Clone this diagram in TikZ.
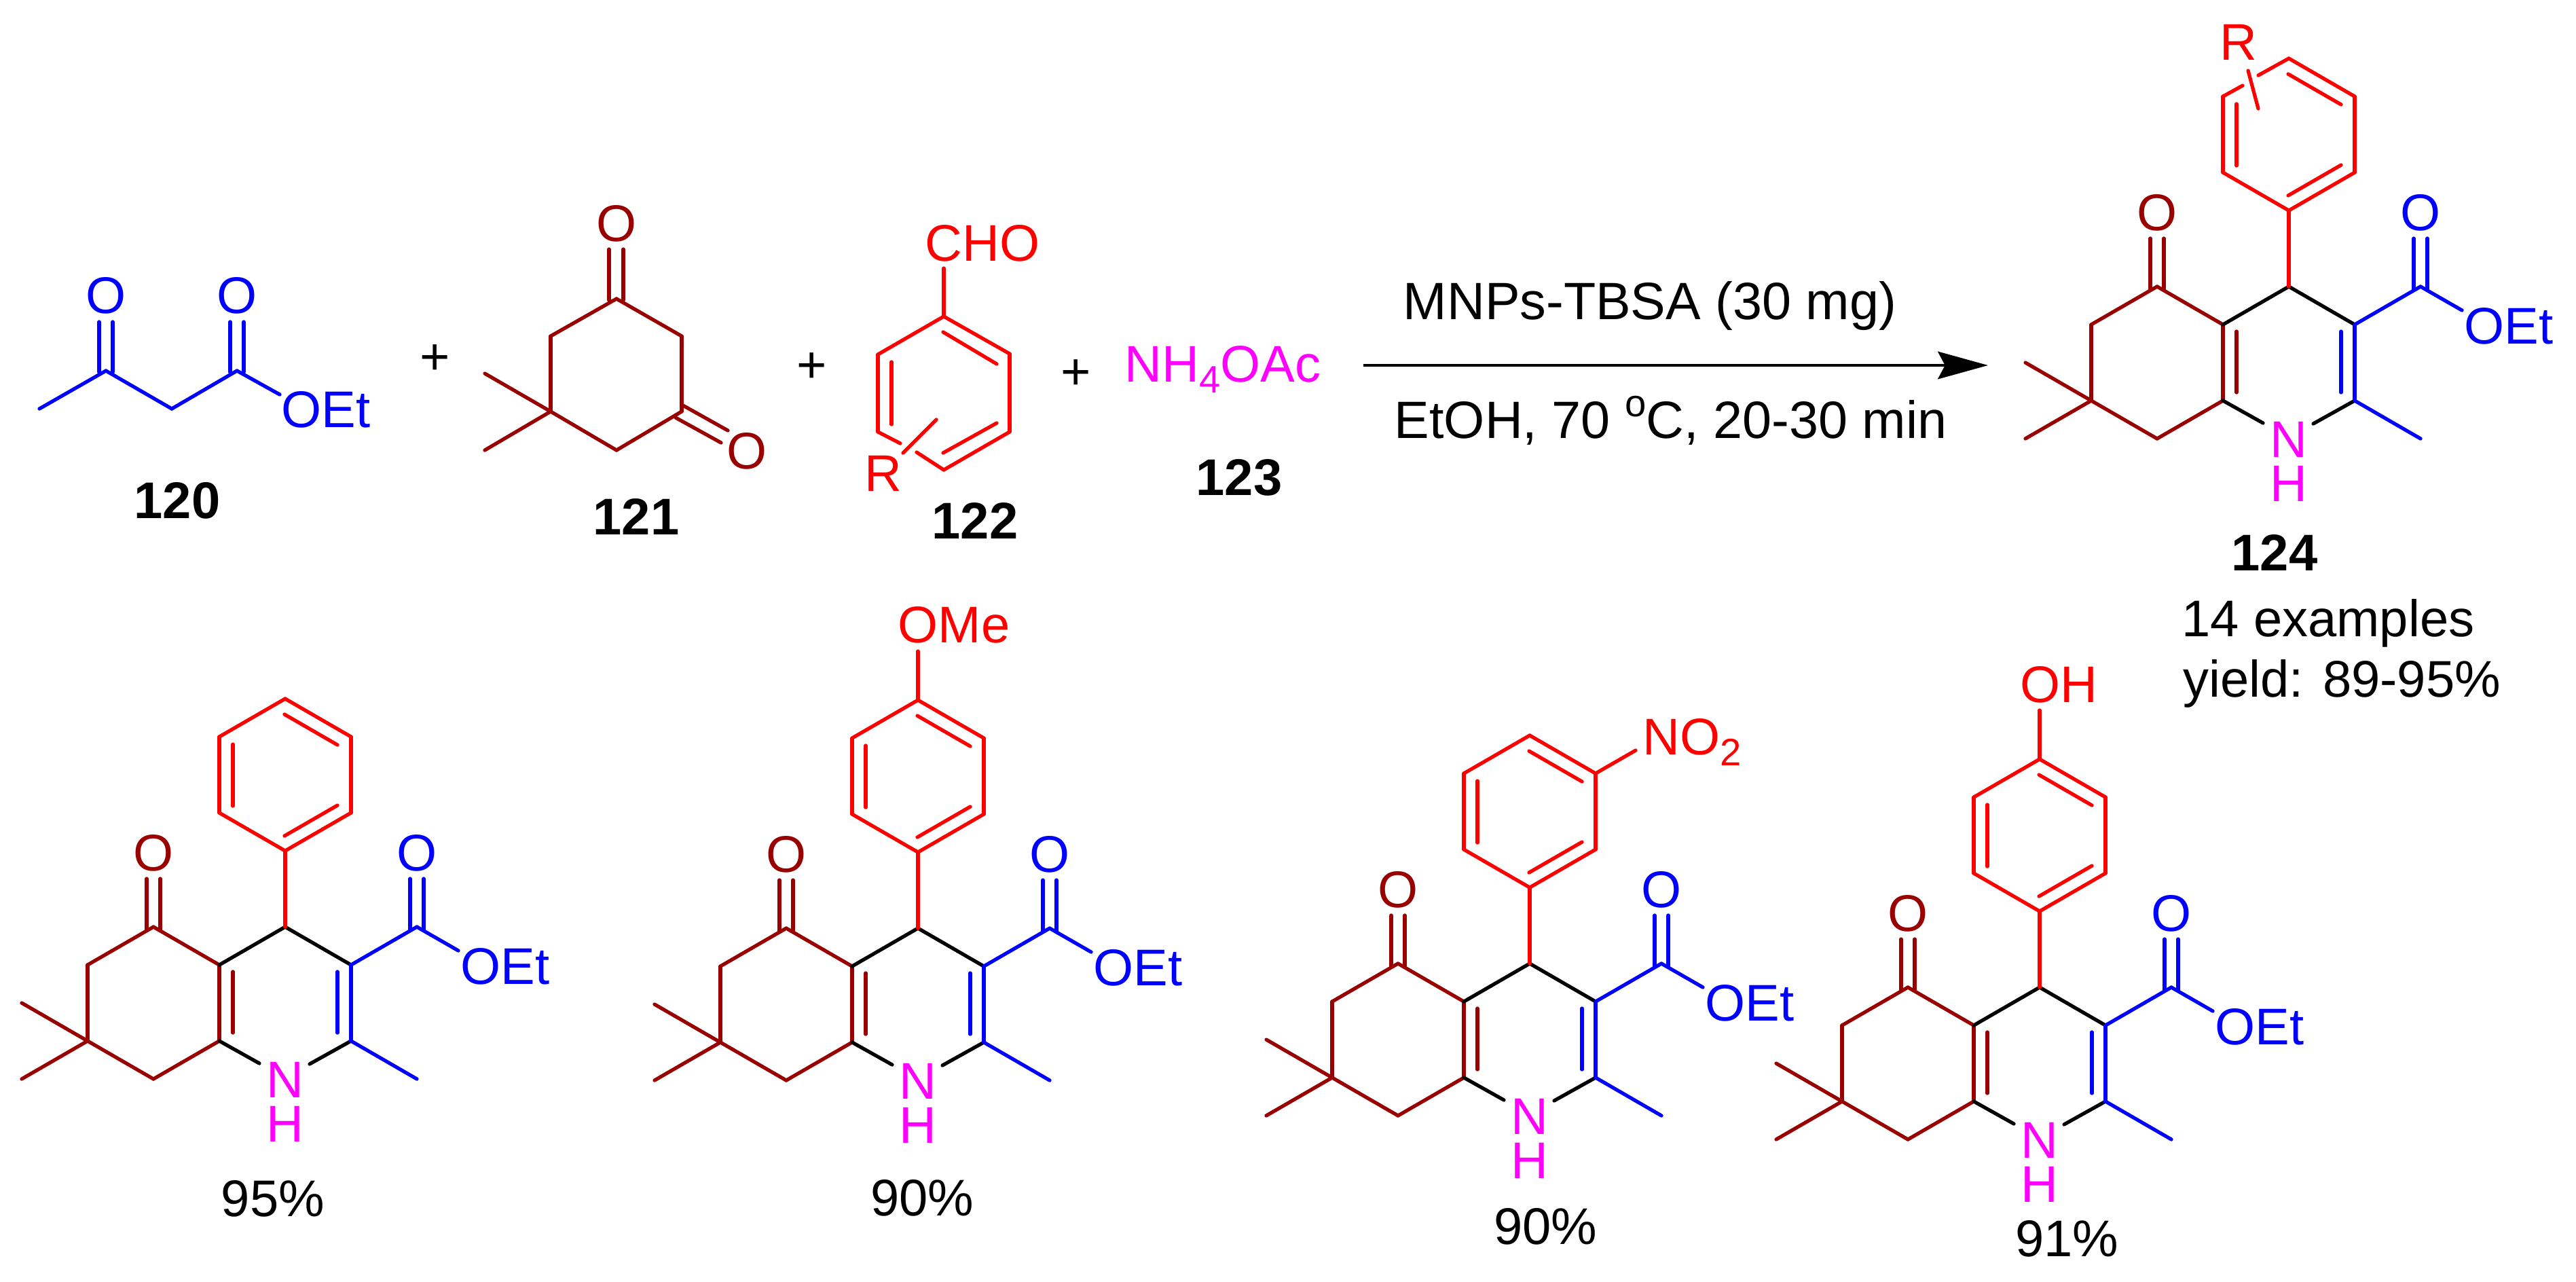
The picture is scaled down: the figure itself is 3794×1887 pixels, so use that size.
\documentclass[tikz,border=0pt]{standalone}
\usepackage{fontspec}
\setmainfont{Liberation Sans}
\usepackage{xcolor}
\usetikzlibrary{arrows.meta}

\definecolor{ringred}{HTML}{990000}
\definecolor{estblue}{HTML}{0000FF}
\definecolor{arylred}{HTML}{FF0000}
\definecolor{aminepink}{HTML}{FF00FF}

\newcommand{\labelfont}{\fontsize{21.6}{24}\selectfont}
\newcommand{\condfont}{\fontsize{22}{24}\selectfont}
\newcommand{\lowtxt}[1]{\raisebox{-4.8pt}{\fontsize{16}{16}\selectfont #1}}
\newcommand{\hightxt}[1]{\raisebox{9pt}{\fontsize{16}{16}\selectfont #1}}

\tikzset{
    bond/.style={line width=1.5pt, line cap=round, line join=round},
    atom/.style={inner sep=0pt, anchor=base, font=\labelfont},
    atomleft/.style={inner sep=0pt, anchor=base west, font=\labelfont},
    compound/.style={atom, font=\labelfont\bfseries},
}

% Shared ring system, C4 at (#2,#3)
\newcommand{\dhpcore}[3]{
\begin{scope}[shift={(#2,#3)}, name prefix=#1-]
    \foreach \n/\x/\y in {c4/0/0, c3/97/56, c2/97/168, c4a/-97/56, c8a/-97/168, c5/-194/0, c6/-291/56, c7/-291/168,
        c8/-194/224, mea/-388/112, meb/-388/224, mec/194/224, est/194/0, oet/255/35, na/-38/201, nb/36/202,
        koa/-204/-71, kob/-204/5, kpa/-184/-71, kpb/-184/5, eoa/184/-71, eob/184/5, epa/204/-71, epb/204/5,
        ina/-77/66, inb/-77/156, ira/77/66, irb/77/156,
        p1/0/-112, p2/-97/-168, p3/-97/-280, p4/0/-336, p5/97/-280, p6/97/-168,
        qa/-77/-269, qb/-77/-178, qc/-1/-313, qd/77/-268, qe/-1/-134, qf/77/-179}
        \coordinate (\n) at (\x,\y);

    % Cyclohexenone part
    \foreach \i/\j in {c4a/c8a, ina/inb, c4a/c5, c5/c6, c6/c7, c7/c8, c8/c8a, c7/mea, c7/meb, koa/kob, kpa/kpb}
        \draw[bond, ringred] (\i) -- (\j);

    % Dihydropyridine part
    \foreach \i/\j in {c4a/c4, c4/c3, c8a/na, nb/c2}
        \draw[bond, black] (\i) -- (\j);

    % Ester side
    \foreach \i/\j in {c3/c2, ira/irb, c3/est, est/oet, c2/mec, eoa/eob, epa/epb}
        \draw[bond, estblue] (\i) -- (\j);

    % Aryl ring, the p3/p4 edge is left to the caller
    \foreach \i/\j in {c4/p1, p1/p2, p2/p3, p4/p5, p5/p6, p6/p1, qa/qb, qc/qd, qe/qf}
        \draw[bond, arylred] (\i) -- (\j);

    \node[atom, ringred] (oket) at (-194,-83) {O};
    \node[atom, estblue] (oest) at (194,-83) {O};
    \node[atomleft, estblue] (etlabel) at (258,84) {OEt};
    \node[atom, aminepink] (nlabel) at (0,251) {N};
    \node[atom, aminepink] (hlabel) at (0,316) {H};
\end{scope}
}

\begin{document}
\begin{tikzpicture}[x=0.01cm, y=-0.01cm, >={Stealth[length=21pt, width=11.5pt, inset=3pt]}]
    \useasboundingbox (0,0) rectangle (3794,1887);

    % Compound 120
    \foreach \n/\x/\y in {ma/58/602, ca/156/546, cb/253/602, cc/349/546, oe/412/581,
        da/146/474, db/146/548, dc/166/474, dd/166/548, de/339/474, df/339/548, dg/359/474, dh/359/548}
        \coordinate (\n) at (\x,\y);
    \foreach \i/\j in {ma/ca, ca/cb, cb/cc, cc/oe, da/db, dc/dd, de/df, dg/dh}
        \draw[bond, estblue] (\i) -- (\j);
    \node[atom, estblue] (oa) at (156,461) {O};
    \node[atom, estblue] (ob) at (349,461) {O};
    \node[atomleft, estblue] (oeta) at (414,629) {OEt};
    \node[compound] (lab120) at (261,763) {120};
    \node[atom, anchor=center] (plusa) at (641,530) {+};

    % Compound 121
    \foreach \n/\x/\y in {ra/908/440, rb/1004/495, rc/1004/606, rd/908/663, re/811/606, rf/811/495, rg/714/550, rh/714/663,
        sa/897/367, sb/897/442, sc/918/367, sd/918/442, se/1004/596, sf/1072/634, sg/995/615, sh/1062/652}
        \coordinate (\n) at (\x,\y);
    \foreach \i/\j in {ra/rb, rb/rc, rc/rd, rd/re, re/rf, rf/ra, re/rg, re/rh, sa/sb, sc/sd, se/sf, sg/sh}
        \draw[bond, ringred] (\i) -- (\j);
    \node[atom, ringred] (oc) at (908,355) {O};
    \node[atom, ringred] (od) at (1100,690) {O};
    \node[compound] (lab121) at (937,787) {121};
    \node[atom, anchor=center] (plusb) at (1196,542) {+};

    % Compound 122
    \foreach \n/\x/\y in {ta/1390/466, tb/1487/521, tc/1487/636, td/1390/692, te/1350/666, tf/1326/653, tg/1293/636, th/1293/522,
        ua/1390/395, ub/1313/533, uc/1313/625, ud/1389/489, ue/1468/536, uf/1389/667, ug/1468/623, uh/1330/667, ui/1379/618}
        \coordinate (\n) at (\x,\y);
    \foreach \i/\j in {ta/tb, tb/tc, tc/td, td/te, tf/tg, tg/th, th/ta, ta/ua, ub/uc, ud/ue, uf/ug, uh/ui}
        \draw[bond, arylred] (\i) -- (\j);
    \node[atomleft, arylred] (cho) at (1362,384) {CHO};
    \node[atomleft, arylred] (ra122) at (1273,723) {R};
    \node[compound] (lab122) at (1436,793) {122};
    \node[atom, anchor=center] (plusc) at (1585,552) {+};

    % Compound 123
    \node[atomleft, aminepink] (amm) at (1656,562) {NH\lowtxt{4}OAc};
    \node[compound] (lab123) at (1825,729) {123};

    % Reaction arrow
    \coordinate (arrowa) at (2008,538);
    \coordinate (arrowb) at (2928,538);
    \draw[->, line width=1.3pt] (arrowa) -- (arrowb);
    \node[atomleft, font=\condfont] (cond) at (2066,470) {MNPs-TBSA (30 mg)};
    \node[atomleft, font=\condfont] (solv) at (2053,645) {EtOH, 70 \hightxt{o}C, 20-30 min};

    % Product 124
    \dhpcore{prod}{3371}{422}
    \begin{scope}[shift={(3371,422)}, name prefix=prod-]
        \foreach \n/\x/\y in {ga/-68/-296, gb/-45/-311, ra/-60/-318, rb/-45/-262}
            \coordinate (\n) at (\x,\y);
        \foreach \i/\j in {p3/ga, gb/p4, ra/rb}
            \draw[bond, arylred] (\i) -- (\j);
        \node[atomleft, arylred] (rlabel) at (-102,-334) {R};
    \end{scope}
    \node[compound] (lab124) at (3350,840) {124};
    \node[atomleft] (examples) at (3213,937) {14 examples};
    \node[atomleft] (yield) at (3215,1026) {yield: 89-95\%};

    % Phenyl example
    \dhpcore{ph}{420}{1365}
    \node[atom] (pcta) at (402,1791) {95\%};

    % Methoxy example
    \dhpcore{mo}{1352}{1367}
    \coordinate (mobond) at (1352,959);
    \draw[bond, arylred] (mo-p4) -- (mobond);
    \node[atomleft, arylred] (ome) at (1322,946) {OMe};
    \node[atom] (pctb) at (1358,1790) {90\%};

    % Nitro example
    \dhpcore{no}{2253}{1419}
    \coordinate (nobond) at (2409,1105);
    \draw[bond, arylred] (no-p5) -- (nobond);
    \node[atomleft, arylred] (nitro) at (2419,1111) {NO\lowtxt{2}};
    \node[atom] (pctc) at (2276,1832) {90\%};

    % Hydroxy example
    \dhpcore{hy}{3004}{1454}
    \coordinate (hybond) at (3004,1046);
    \draw[bond, arylred] (hy-p4) -- (hybond);
    \node[atomleft, arylred] (ohlabel) at (2975,1034) {OH};
    \node[atom] (pctd) at (3044,1850) {91\%};

    % Closing edge of the unbroken rings
    \foreach \m in {ph, mo, no, hy}
        \draw[bond, arylred] (\m-p3) -- (\m-p4);
\end{tikzpicture}
\end{document}
